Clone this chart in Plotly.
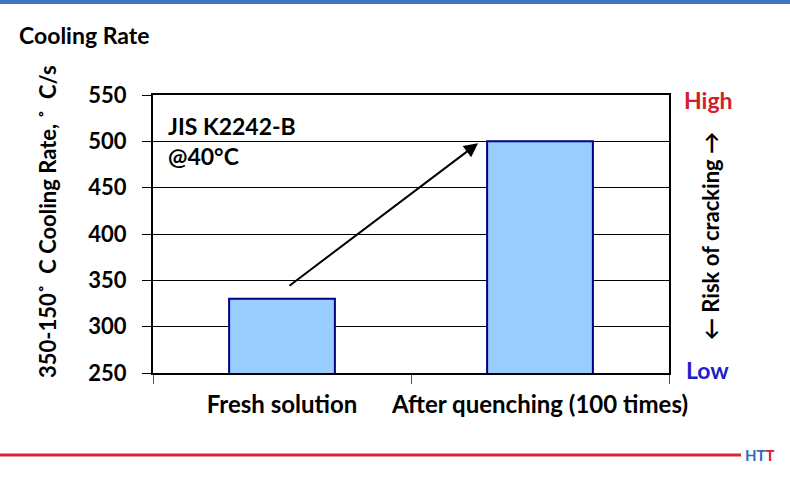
import plotly.graph_objects as go

categories = ["Fresh solution", "After quenching (100 times)"]
cooling_rate = [330, 500]
y_ticks = [250, 300, 350, 400, 450, 500, 550]

FONT = "Lato"

fig = go.Figure()
fig.add_trace(go.Bar(
    x=categories, y=cooling_rate, width=0.41,
    marker=dict(color="#99CCFF", line=dict(color="#000080", width=2)),
    showlegend=False,
))

fig.update_layout(
    width=790, height=477,
    margin=dict(l=153, r=121, t=95, b=104, autoexpand=False),
    paper_bgcolor="white", plot_bgcolor="white",
    font=dict(family=FONT, color="black"),
)
fig.update_xaxes(
    range=[-0.5, 1.5], showline=True, linecolor="black", linewidth=2, mirror=True,
    ticks="outside", tickson="boundaries", ticklen=9, tickcolor="#555", tickwidth=1,
    tickfont=dict(family=FONT, size=24, color="black", weight="bold"),
    tickangle=0, automargin=False,
    ticklabelstandoff=9, showgrid=False,
)
fig.update_yaxes(
    range=[250, 550], tickvals=y_ticks, showline=True, linecolor="black", linewidth=2,
    mirror=True, ticks="outside", ticklen=9, tickcolor="black",
    tickfont=dict(family=FONT, size=22, color="black", weight="bold"),
    automargin=False,
    ticklabelstandoff=11, showgrid=True, gridcolor="black", gridwidth=1, zeroline=False,
)

def px_x(px):
    return (px - 153) / 516
def px_y(py):
    return 1 - (py - 95) / 278

# Arrow
fig.add_annotation(x=0.76, y=498, ax=0.023, ay=343, xref="x", yref="y", axref="x", ayref="y",
                   showarrow=True, arrowhead=2, arrowsize=1.4, arrowwidth=2, arrowcolor="black", text="")

fig.add_annotation(xref="paper", yref="paper", x=px_x(166), y=px_y(110), xanchor="left", yanchor="top",
                   align="left", text="JIS K2242-B<br>@40°C", showarrow=False,
                   font=dict(family=FONT, size=23, weight="bold"))
fig.add_annotation(xref="paper", yref="paper", x=px_x(17), y=px_y(35), xanchor="left", yanchor="middle",
                   text="Cooling Rate", showarrow=False, font=dict(family=FONT, size=23, weight="bold"))
fig.add_annotation(xref="paper", yref="paper", x=px_x(47), y=px_y(222), xanchor="center", yanchor="middle",
                   textangle=-90, text="350-150˚  C Cooling Rate, ˚  C/s", showarrow=False,
                   font=dict(family=FONT, size=22, weight="bold"))
fig.add_annotation(xref="paper", yref="paper", x=px_x(708), y=px_y(100), xanchor="center", yanchor="middle",
                   text="High", showarrow=False, font=dict(family=FONT, size=23, weight="bold", color="#D0202A"))
fig.add_annotation(xref="paper", yref="paper", x=px_x(707), y=px_y(370), xanchor="center", yanchor="middle",
                   text="Low", showarrow=False, font=dict(family=FONT, size=23, weight="bold", color="#1F1FC8"))
fig.add_annotation(xref="paper", yref="paper", x=px_x(710), y=px_y(236), xanchor="center", yanchor="middle",
                   textangle=-90, text="← Risk of cracking →", showarrow=False,
                   font=dict(family=FONT, size=22, weight="bold"))
fig.add_annotation(xref="paper", yref="paper", x=px_x(743), y=px_y(455), xanchor="left", yanchor="middle",
                   text="<span style='color:#2F6DB5'>HT</span><span style='color:#D0202A'>T</span>",
                   showarrow=False, font=dict(family=FONT, size=15, weight="bold"))

# Decorative rules
fig.add_shape(type="line", xref="paper", yref="paper", x0=px_x(0), x1=px_x(790), y0=px_y(2), y1=px_y(2),
              line=dict(color="#4472C4", width=4))
fig.add_shape(type="line", xref="paper", yref="paper", x0=px_x(0), x1=px_x(741), y0=px_y(455), y1=px_y(455),
              line=dict(color="#D92632", width=3))

fig.write_html("out.html", config={"displayModeBar": False},
               post_script="document.body.style.margin='0';document.body.style.overflow='hidden';")
